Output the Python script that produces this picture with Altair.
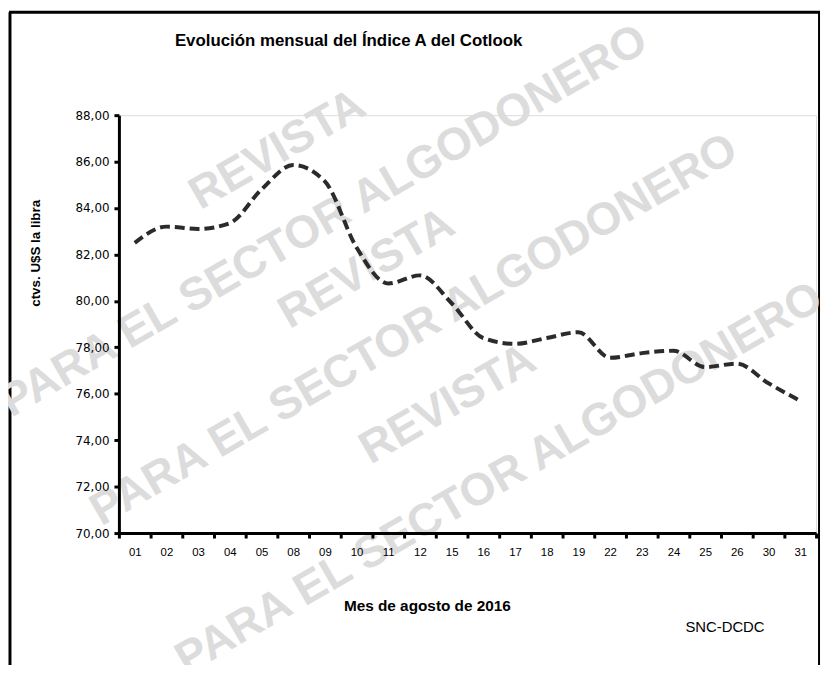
import altair as alt
import pandas as pd

# ---- data ----
days = ["01", "02", "03", "04", "05", "08", "09", "10", "11", "12", "15",
        "16", "17", "18", "19", "22", "23", "24", "25", "26", "30", "31"]
values = [82.5, 83.2, 83.1, 83.35, 84.8, 85.85, 85.15, 82.3, 80.75, 81.1, 79.9,
          78.4, 78.15, 78.4, 78.65, 77.55, 77.75, 77.85, 77.15, 77.3, 76.45, 75.7]
y_ticks = [70, 72, 74, 76, 78, 80, 82, 84, 86, 88]

title_text = "Evolución mensual del Índice A del Cotlook"
y_title = "ctvs. U$S la libra"
x_title = "Mes de agosto de 2016"
source_text = "SNC-DCDC"
wm_line1 = "REVISTA"
wm_line2 = "PARA EL SECTOR ALGODONERO"

df = pd.DataFrame({"dia": days, "valor": values})
one = pd.DataFrame({"k": [0]})

FONT = "Liberation Sans"
W, H = 704, 422

base = alt.Chart(df)
deco = alt.Chart(one)

# watermark (decoration)
wm_layers = []
wm_pos = [((160, 35), (207, 107)), ((250, 155), (298, 217)), ((332, 292), (384, 367))]
for (a, b) in wm_pos:
    for (pos, txt) in ((a, wm_line1), (b, wm_line2)):
        wm_layers.append(
            deco.mark_text(font=FONT, fontWeight="bold", fontSize=46,
                           angle=330, color="#dcdcdc", align="center", baseline="middle")
            .encode(x=alt.value(pos[0]), y=alt.value(pos[1]), text=alt.value(txt))
        )

# frame (decoration)
frame_left = deco.mark_rule(color="black", strokeWidth=3).encode(
    x=alt.value(-110), y=alt.value(-104), y2=alt.value(600))
frame_top = deco.mark_rule(color="black", strokeWidth=3).encode(
    x=alt.value(-111), x2=alt.value(708), y=alt.value(-104))
frame_right = deco.mark_rule(color="black", strokeWidth=2).encode(
    x=alt.value(707), y=alt.value(-104), y2=alt.value(600))

title = deco.mark_text(font=FONT, fontSize=17, fontWeight="bold", color="black",
                       align="center", baseline="middle").encode(
    x=alt.value(232), y=alt.value(-75), text=alt.value(title_text))

line = base.mark_line(color="#2b2b2b", strokeWidth=4, strokeDash=[10, 5],
                      interpolate="monotone").encode(
    x=alt.X("dia:N", sort=days, bandPosition=0.5,
            scale=alt.Scale(type="band", paddingInner=0, paddingOuter=0),
            axis=alt.Axis(title=x_title, labelAngle=0, tickBand="extent", grid=False,
                          domainWidth=3, domainColor="black", tickWidth=3,
                          tickColor="black", tickSize=5, labelPadding=9,
                          labelFont=FONT, labelFontSize=11.5, labelColor="black",
                          titleFont=FONT, titleFontSize=15.5, titleFontWeight="bold",
                          titleColor="black", titleX=311, titleY=73,
                          titleAlign="center", titleBaseline="middle", zindex=1)),
    y=alt.Y("valor:Q", scale=alt.Scale(domain=[70, 88], nice=False, zero=False),
            axis=alt.Axis(title=y_title, values=y_ticks,
                          labelExpr="replace(format(datum.value, '.2f'), '.', ',')",
                          domainWidth=3, domainColor="black", tickWidth=3,
                          tickColor="black", tickSize=5, labelPadding=5,
                          labelFont="DejaVu Sans", labelFontSize=12, labelColor="black",
                          grid=False, titleFont=FONT, titleFontSize=13.5,
                          titleFontWeight="bold", titleColor="black",
                          titleAngle=270, titleX=-84, titleY=139,
                          titleAlign="center", titleBaseline="middle", zindex=1)),
)

source = deco.mark_text(font=FONT, fontSize=15, color="black", align="center",
                        baseline="middle").encode(
    x=alt.value(612), y=alt.value(517), text=alt.value(source_text))

chart = alt.layer(frame_left, frame_top, frame_right, *wm_layers, line, title, source).properties(
    width=W, height=H,
    autosize=alt.AutoSizeParams(type="none"),
    padding={"left": 112, "top": 105, "right": 6, "bottom": 130},
).configure_view(stroke="transparent", strokeWidth=0).configure_axis(grid=False).configure(
    background="white")

chart.save("out.html", embed_options={"renderer": "svg", "actions": False})
